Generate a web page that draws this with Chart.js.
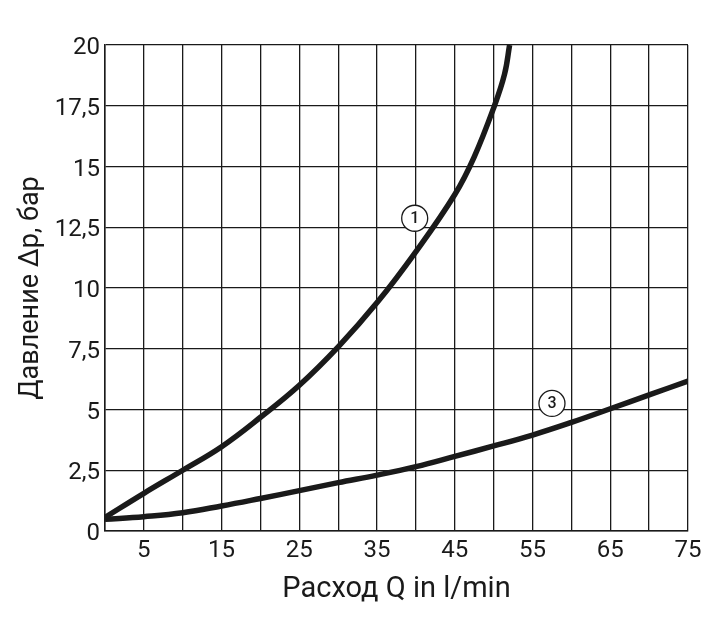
<!DOCTYPE html>
<html>
<head>
<meta charset="utf-8">
<script src="https://cdn.jsdelivr.net/npm/chart.js@4.4.1/dist/chart.umd.min.js"></script>
<style>
  html, body { margin: 0; padding: 0; background: #fff; }
  #wrap { width: 722px; height: 624px; }
</style>
</head>
<body>
<div id="wrap"><canvas id="chart"></canvas></div>
<script>
// curve 1
var curve1Q = [0, 5, 10, 15, 20, 25, 30, 35, 40, 45, 47.5, 50.1, 51.4, 52.05];
var curve1P = [0.56, 1.55, 2.5, 3.47, 4.68, 6.0, 7.58, 9.4, 11.5, 13.85, 15.4, 17.5, 18.8, 20];
// curve 3
var curve3Q = [0, 5, 10, 15, 20, 25, 30, 35, 40, 45, 50, 55, 60, 65, 70, 75];
var curve3P = [0.48, 0.59, 0.75, 1.03, 1.34, 1.66, 1.99, 2.3, 2.65, 3.07, 3.5, 3.95, 4.47, 5.03, 5.6, 6.17];
// circled curve numbers
var noteQ = [39.84, 57.5];
var noteP = [12.87, 5.25];
var noteText = ['1', '3'];
// tick labels
var xTickLabels = ['', '5', '', '15', '', '25', '', '35', '', '45', '', '55', '', '65', '', '75'];
var yTickLabels = ['0', '2,5', '5', '7,5', '10', '12,5', '15', '17,5', '20'];

var ink = '#1a1a1a';
var fontFamily = 'Roboto, "Noto Sans", sans-serif';

function toPoints(xs, ys) {
  var pts = [];
  for (var i = 0; i < xs.length; i++) pts.push({x: xs[i], y: ys[i]});
  return pts;
}

var notesPlugin = {
  id: 'notes',
  afterDatasetsDraw: function(chart) {
    var ctx = chart.ctx;
    var xs = chart.scales.x, ys = chart.scales.y;
    ctx.save();
    for (var i = 0; i < noteText.length; i++) {
      var cx = xs.getPixelForValue(noteQ[i]);
      var cy = ys.getPixelForValue(noteP[i]);
      ctx.beginPath();
      ctx.arc(cx, cy, 13, 0, Math.PI * 2);
      ctx.fillStyle = '#fff';
      ctx.fill();
      ctx.lineWidth = 1.3;
      ctx.strokeStyle = ink;
      ctx.stroke();
      ctx.fillStyle = ink;
      ctx.font = '500 16px ' + fontFamily;
      ctx.textAlign = 'center';
      ctx.textBaseline = 'middle';
      ctx.fillText(noteText[i], cx, cy + 1);
    }
    ctx.restore();
  }
};

new Chart(document.getElementById('chart'), {
  type: 'scatter',
  data: {
    datasets: [{
      data: toPoints(curve1Q, curve1P),
      showLine: true,
      borderColor: ink,
      borderWidth: 5.5,
      pointRadius: 0,
      tension: 0.4
    }, {
      data: toPoints(curve3Q, curve3P),
      showLine: true,
      borderColor: ink,
      borderWidth: 5.5,
      pointRadius: 0,
      tension: 0.4
    }]
  },
  options: {
    responsive: true,
    maintainAspectRatio: false,
    animation: false,
    events: [],
    layout: { padding: { top: 45, right: 34, left: 0, bottom: 0 } },
    plugins: { legend: { display: false }, tooltip: { enabled: false } },
    scales: {
      x: {
        type: 'linear', min: 0, max: 75,
        afterFit: function(s) { s.height = 93; },
        ticks: {
          stepSize: 5, autoSkip: false, maxRotation: 0, padding: 6,
          color: ink, font: { family: fontFamily, size: 24 },
          callback: function(v) { return xTickLabels[Math.round(v / 5)]; }
        },
        grid: { color: ink, lineWidth: 1.3, drawTicks: false },
        border: { color: ink, width: 1.5 },
        title: {
          display: true, text: 'Расход Q in l/min', color: ink,
          font: { family: fontFamily, size: 29 }, padding: { top: 0, bottom: 17 }
        }
      },
      y: {
        type: 'linear', min: 0, max: 20,
        afterFit: function(s) { s.width = 105; },
        ticks: {
          stepSize: 2.5, autoSkip: false, padding: 5, labelOffset: 3,
          color: ink, font: { family: fontFamily, size: 24 },
          callback: function(v) { return yTickLabels[Math.round(v / 2.5)]; }
        },
        grid: { color: ink, lineWidth: 1.3, drawTicks: false },
        border: { color: ink, width: 1.5 },
        title: {
          display: true, text: 'Давление Δр, бар', color: ink,
          font: { family: fontFamily, size: 27 }, padding: { top: 15, bottom: 0 }
        }
      }
    }
  },
  plugins: [notesPlugin]
});
</script>
</body>
</html>
